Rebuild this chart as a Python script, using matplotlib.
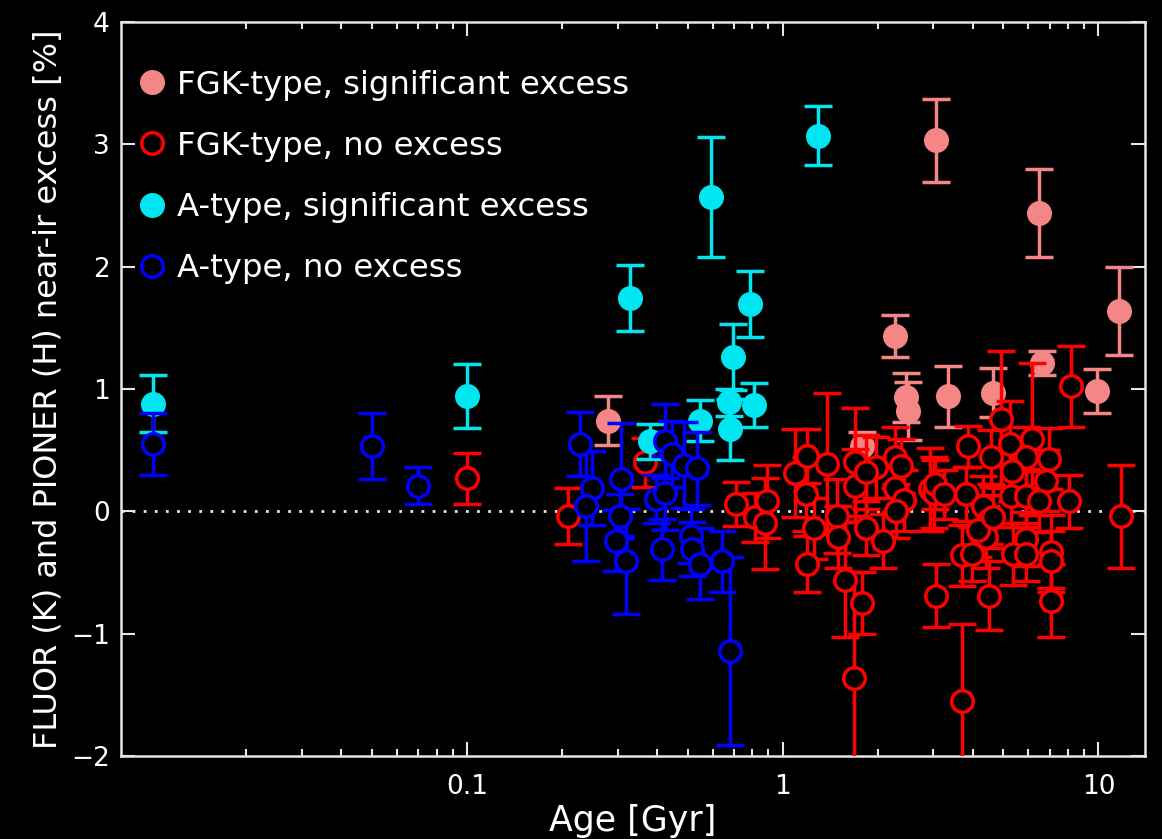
import matplotlib
matplotlib.use('Agg')
import matplotlib.pyplot as plt
from matplotlib.lines import Line2D
from matplotlib.ticker import FixedLocator, FixedFormatter, NullFormatter

# FGK-type stars, significant excess
fgk_sig_age = [0.28, 1.78, 2.27, 2.45, 2.49, 3.06, 3.33, 4.62, 6.47, 6.64, 9.9, 11.6]
fgk_sig_val = [0.74, 0.53, 1.43, 0.93, 0.82, 3.03, 0.94, 0.97, 2.44, 1.21, 0.98, 1.64]
fgk_sig_err = [0.20, 0.12, 0.17, 0.20, 0.24, 0.34, 0.25, 0.20, 0.36, 0.10, 0.18, 0.36]

# FGK-type stars, no excess
fgk_no_age = [0.1, 0.208, 0.366, 0.71, 0.818, 0.89, 0.88, 1.094, 1.19, 1.38,
              1.185, 1.26, 1.19, 1.48, 1.50, 1.57, 1.69, 1.69, 1.84, 1.78,
              1.68, 1.98, 1.84, 2.08, 2.26, 2.37, 2.26, 2.43, 2.29, 2.92,
              3.02, 3.04, 3.25, 3.06, 3.85, 3.80, 3.69, 3.99, 3.69, 4.30,
              4.50, 4.40, 4.14, 4.50, 4.56, 4.62, 4.91, 5.24, 6.15, 5.88,
              6.97, 5.32, 6.80, 5.28, 5.88, 6.46, 8.05, 11.8, 5.88, 5.35,
              5.88, 7.05, 7.05, 7.08, 8.16]
fgk_no_val = [0.27, -0.04, 0.40, 0.06, -0.05, 0.08, -0.10, 0.31, 0.45, 0.39,
              0.14, -0.14, -0.43, -0.04, -0.21, -0.56, 0.40, 0.21, -0.14, -0.75,
              -1.36, 0.36, 0.32, -0.24, 0.44, 0.37, 0.19, 0.09, 0.00, 0.18,
              0.15, 0.22, 0.14, -0.69, 0.53, 0.14, -0.36, -0.35, -1.55, 0.04,
              -0.07, -0.21, -0.15, -0.69, 0.44, -0.05, 0.75, 0.55, 0.59, 0.44,
              0.43, 0.33, 0.25, 0.125, 0.125, 0.08, 0.08, -0.04, -0.23, -0.35,
              -0.35, -0.33, -0.41, -0.73, 1.02]
fgk_no_err = [0.21, 0.23, 0.20, 0.18, 0.20, 0.30, 0.37, 0.36, 0.22, 0.58,
              0.30, 0.25, 0.23, 0.30, 0.25, 0.47, 0.44, 0.30, 0.22, 0.25,
              0.86, 0.25, 0.30, 0.22, 0.25, 0.22, 0.20, 0.25, 0.22, 0.34,
              0.29, 0.20, 0.20, 0.26, 0.17, 0.22, 0.25, 0.22, 0.63, 0.25,
              0.20, 0.25, 0.22, 0.28, 0.22, 0.25, 0.56, 0.35, 0.62, 0.25,
              0.25, 0.25, 0.25, 0.25, 0.22, 0.25, 0.22, 0.42, 0.22, 0.25,
              0.22, 0.30, 0.25, 0.30, 0.33]

# A-type stars, significant excess
a_sig_age = [0.0101, 0.1, 0.327, 0.38, 0.545, 0.594, 0.674, 0.682, 0.694, 0.79, 0.81, 1.29]
a_sig_val = [0.88, 0.94, 1.74, 0.57, 0.74, 2.57, 0.89, 0.67, 1.26, 1.69, 0.87, 3.07]
a_sig_err = [0.23, 0.26, 0.27, 0.14, 0.17, 0.49, 0.11, 0.25, 0.27, 0.27, 0.18, 0.24]

# A-type stars, no excess
a_no_age = [0.0101, 0.05, 0.07, 0.228, 0.248, 0.238, 0.308, 0.306, 0.296, 0.318,
            0.396, 0.415, 0.425, 0.425, 0.447, 0.486, 0.535, 0.512, 0.516, 0.545,
            0.643, 0.682]
a_no_val = [0.55, 0.53, 0.21, 0.55, 0.19, 0.04, 0.26, -0.04, -0.24, -0.41,
            0.10, -0.31, 0.575, 0.15, 0.47, 0.38, 0.35, -0.20, -0.31, -0.43,
            -0.41, -1.14]
a_no_err = [0.25, 0.27, 0.15, 0.26, 0.30, 0.45, 0.46, 0.18, 0.25, 0.43,
            0.20, 0.25, 0.30, 0.30, 0.27, 0.35, 0.30, 0.22, 0.22, 0.29,
            0.25, 0.77]

salmon = '#f58686'
red = '#ff0000'
cyan = '#00e6f0'
blue = '#0000ff'
fg = '#e6e6e6'

fig, ax = plt.subplots(figsize=(11.62, 8.39), dpi=100)
fig.patch.set_facecolor('black')
ax.set_facecolor('black')
fig.subplots_adjust(left=0.104, right=0.985, bottom=0.099, top=0.974)

ax.axhline(0, color=fg, linestyle=(0, (1, 3)), linewidth=2, zorder=1)

ms, mw = 15.5, 2.5
style = dict(fmt='o', ms=ms, mew=mw, elinewidth=mw, capsize=10, capthick=mw)
ax.errorbar(fgk_sig_age, fgk_sig_val, yerr=fgk_sig_err, color=salmon,
            mfc=salmon, mec=salmon, zorder=2, **style)
ax.errorbar(fgk_no_age, fgk_no_val, yerr=fgk_no_err, color=red,
            mfc='black', mec=red, zorder=3, **style)
ax.errorbar(a_sig_age, a_sig_val, yerr=a_sig_err, color=cyan,
            mfc=cyan, mec=cyan, zorder=4, **style)
ax.errorbar(a_no_age, a_no_val, yerr=a_no_err, color=blue,
            mfc='black', mec=blue, zorder=5, **style)

ax.set_xscale('log')
ax.set_xlim(0.008, 14)
ax.set_ylim(-2, 4)

ax.xaxis.set_major_locator(FixedLocator([0.1, 1, 10]))
ax.xaxis.set_major_formatter(FixedFormatter(['0.1', '1', '10']))
minors = [k * 10.0 ** e for e in (-2, -1, 0) for k in range(2, 10)]
ax.xaxis.set_minor_locator(FixedLocator(minors))
ax.xaxis.set_minor_formatter(NullFormatter())
ax.set_yticks([-2, -1, 0, 1, 2, 3, 4])

ax.tick_params(which='both', direction='in', top=True, right=True,
               colors=fg, labelcolor='white', labelsize=19, width=1.5)
ax.tick_params(which='major', length=10, pad=8)
ax.tick_params(axis='x', which='major', pad=13)
ax.tick_params(which='minor', length=5)
for sp in ax.spines.values():
    sp.set_color(fg)
    sp.set_linewidth(1.8)

ax.set_xlabel('Age [Gyr]', color='white', fontsize=25, labelpad=3)
ax.set_ylabel('FLUOR (K) and PIONER (H) near-ir excess [%]', color='white',
              fontsize=23, labelpad=5)

handles = [
    Line2D([], [], ls='none', marker='o', ms=ms, mew=mw, mfc=salmon, mec=salmon),
    Line2D([], [], ls='none', marker='o', ms=ms, mew=mw, mfc='black', mec=red),
    Line2D([], [], ls='none', marker='o', ms=ms, mew=mw, mfc=cyan, mec=cyan),
    Line2D([], [], ls='none', marker='o', ms=ms, mew=mw, mfc='black', mec=blue),
]
labels = ['FGK-type, significant excess', 'FGK-type, no excess',
          'A-type, significant excess', 'A-type, no excess']
ax.legend(handles, labels, loc='upper left', bbox_to_anchor=(0, 0.959),
          frameon=False, fontsize=23.3, labelcolor='white',
          handlelength=0.8, handletextpad=0.4, labelspacing=0.93,
          borderpad=0.2, borderaxespad=0.35)

fig.savefig('out.png', dpi=100, facecolor='black')
